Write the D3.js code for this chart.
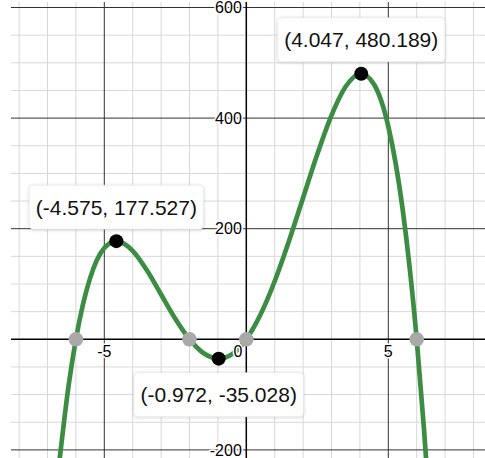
<!DOCTYPE html>
<html><head><meta charset="utf-8">
<script src="https://cdn.jsdelivr.net/npm/d3@7"></script>
<style>html,body{margin:0;padding:0;background:#fff;}svg{display:block;}</style>
</head><body>
<svg id="chart" width="485" height="458"></svg>
<script>
// Curve samples
const curveX = [-6.6, -6.25, -6, -5.75, -5.5, -5, -4.575, -4, -3.5, -3, -2.5, -2, -1.5, -0.972, -0.5, 0, 0.5, 1, 1.5, 2, 2.5, 3, 3.5, 4.047, 4.5, 5, 5.5, 5.75, 6, 6.25, 6.4];
const curveY = [-229.5, -81.3, 0, 63.3, 110.7, 165, 177.527, 160, 124.7, 81, 37.2, 0, -25.3, -35.028, -26.8, 0, 44.7, 105, 177.2, 256, 334.7, 405, 457.2, 480.189, 460.7, 385, 237.2, 130.9, 0, -157.9, -266.6];
// Labelled extrema
const extX = [-4.575, -0.972, 4.047];
const extY = [177.527, -35.028, 480.189];
const extLabels = ["(-4.575, 177.527)", "(-0.972, -35.028)", "(4.047, 480.189)"];
const extSide = ["above", "below", "above"];
// Zero crossings
const rootX = [-6, -2, 0, 6];
const rootY = [0, 0, 0, 0];
// Tick labels
const xTicks = [-5, 5];
const xTickLabels = ["-5", "5"];
const yTicks = [600, 400, 200, -200];
const yTickLabels = ["600", "400", "200", "-200"];

(function () {
const pL = 11, pR = 485, pT = 2, pB = 458;
const x0 = 246.3, ux = 28.4, y0 = 339.3, uy = 110.6 / 200;
const x = d3.scaleLinear().domain([(pL - x0) / ux, (pR - x0) / ux]).range([pL, pR]);
const y = d3.scaleLinear().domain([(y0 - pB) / uy, (y0 - pT) / uy]).range([pB, pT]);

const svg = d3.select("#chart");
const defs = svg.append("defs");
defs.append("clipPath").attr("id", "clip").append("rect")
  .attr("x", pL).attr("y", pT).attr("width", pR - pL).attr("height", pB - pT);
const f = defs.append("filter").attr("id", "sh").attr("x", "-20%").attr("y", "-30%").attr("width", "140%").attr("height", "160%");
f.append("feDropShadow").attr("dx", 0).attr("dy", 0.5).attr("stdDeviation", 1.6).attr("flood-color", "#000").attr("flood-opacity", 0.22);

const g = svg.append("g").attr("clip-path", "url(#clip)");
const [xd0, xd1] = x.domain(), [yd0, yd1] = y.domain();
const minorX = d3.range(Math.ceil(xd0), Math.floor(xd1) + 1, 1).filter(v => v % 5 !== 0);
const majorX = d3.range(Math.ceil(xd0 / 5) * 5, xd1, 5).filter(v => v !== 0);
const minorY = d3.range(Math.ceil(yd0 / 50) * 50, yd1, 50).filter(v => v % 200 !== 0);
const majorY = d3.range(Math.ceil(yd0 / 200) * 200, yd1, 200).filter(v => v !== 0);

g.selectAll(".mx").data(minorX).join("line").attr("x1", d => x(d)).attr("x2", d => x(d)).attr("y1", pT).attr("y2", pB).attr("stroke", "#d8d8d8").attr("stroke-width", 1);
g.selectAll(".my").data(minorY).join("line").attr("y1", d => y(d)).attr("y2", d => y(d)).attr("x1", pL).attr("x2", pR).attr("stroke", "#d8d8d8").attr("stroke-width", 1);
g.selectAll(".Mx").data(majorX).join("line").attr("x1", d => x(d)).attr("x2", d => x(d)).attr("y1", pT).attr("y2", pB).attr("stroke", "#333").attr("stroke-width", 1);
g.selectAll(".My").data(majorY).join("line").attr("y1", d => y(d)).attr("y2", d => y(d)).attr("x1", pL).attr("x2", pR).attr("stroke", "#333").attr("stroke-width", 1);
g.append("line").attr("x1", pL).attr("x2", pR).attr("y1", y(0)).attr("y2", y(0)).attr("stroke", "#000").attr("stroke-width", 1.5);
g.append("line").attr("x1", x(0)).attr("x2", x(0)).attr("y1", pT).attr("y2", pB).attr("stroke", "#000").attr("stroke-width", 1.5);

const font = "'Liberation Sans', Arial, Helvetica, sans-serif";
const tl = svg.append("g").attr("font-family", font).attr("font-size", 16).attr("fill", "#000")
  .attr("stroke", "#fff").attr("stroke-width", 3).attr("paint-order", "stroke").attr("stroke-linejoin", "round");
tl.selectAll(".xt").data(xTicks).join("text").attr("x", d => x(d)).attr("y", y(0) + 18).attr("text-anchor", "middle").text((d, i) => xTickLabels[i]);
tl.append("text").attr("x", x(0) - 4).attr("y", y(0) + 18).attr("text-anchor", "end").text("0");
tl.selectAll(".yt").data(yTicks).join("text").attr("x", x(0) - 4.5).attr("y", d => y(d) + 5.7).attr("text-anchor", "end").text((d, i) => yTickLabels[i]);

const pts = curveX.map((v, i) => [v, curveY[i]]);
g.append("path").datum(pts)
  .attr("d", d3.line().x(d => x(d[0])).y(d => y(d[1])).curve(d3.curveMonotoneX))
  .attr("fill", "none").attr("stroke", "#3d8c44").attr("stroke-width", 4.7).attr("stroke-linejoin", "round");

svg.selectAll(".root").data(rootX).join("circle").attr("cx", d => x(d)).attr("cy", (d, i) => y(rootY[i])).attr("r", 7.3).attr("fill", "#a9a9a9");
svg.selectAll(".ext").data(extX).join("circle").attr("cx", d => x(d)).attr("cy", (d, i) => y(extY[i])).attr("r", 7).attr("fill", "#000");

const lab = svg.append("g").attr("font-family", font).attr("font-size", 21);
extX.forEach((v, i) => {
  const px = x(v), py = y(extY[i]);
  const grp = lab.append("g");
  const t = grp.append("text").attr("text-anchor", "middle").attr("fill", "#111").text(extLabels[i]);
  const tw = t.node().getComputedTextLength();
  const bw = tw + 13, bh = 44;
  const cy = extSide[i] === "above" ? py - 12 - bh / 2 : py + 14 + bh / 2;
  grp.insert("rect", "text").attr("x", px - bw / 2).attr("y", cy - bh / 2).attr("width", bw).attr("height", bh)
    .attr("rx", 4).attr("fill", "#fff").attr("stroke", "#e4e4e4").attr("stroke-width", 0.6).attr("filter", "url(#sh)");
  t.attr("x", px).attr("y", cy + 7.5);
});
})();
</script>
</body></html>
